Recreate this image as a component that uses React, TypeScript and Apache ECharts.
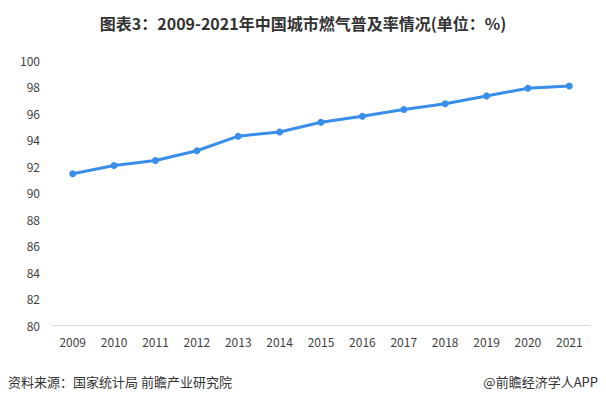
import React, { useEffect, useRef } from "react";
import * as echarts from "echarts";

const years = ["2009", "2010", "2011", "2012", "2013", "2014", "2015", "2016", "2017", "2018", "2019", "2020", "2021"];
const gasRate = [91.41, 92.04, 92.41, 93.15, 94.25, 94.57, 95.3, 95.75, 96.26, 96.7, 97.29, 97.87, 98.04];
const titleText = "图表3：2009-2021年中国城市燃气普及率情况(单位：%)";
const sourceText = "资料来源：国家统计局 前瞻产业研究院";
const brandText = "@前瞻经济学人APP";

export default function App() {
  const ref = useRef<HTMLDivElement>(null);
  useEffect(() => {
    document.body.style.margin = "0";
    const chart = echarts.init(ref.current!, null, { renderer: "svg" });
    chart.setOption({
      animation: false,
      backgroundColor: "#ffffff",
      textStyle: { fontFamily: "Noto Sans CJK SC, sans-serif" },
      title: {
        text: titleText,
        left: "center",
        top: 10,
        textStyle: { fontSize: 16, fontWeight: "bold", color: "#333333", fontFamily: "Noto Sans CJK SC, sans-serif" },
      },
      graphic: [
        { type: "text", left: 8, top: 375, style: { text: sourceText, fontSize: 13, fill: "#333333", fontFamily: "Noto Sans CJK SC, sans-serif" } },
        { type: "text", right: 8, top: 375, style: { text: brandText, fontSize: 13, fill: "#333333", fontFamily: "Noto Sans CJK SC, sans-serif" } },
      ],
      grid: { left: 52, right: 16, top: 60, bottom: 81 },
      xAxis: {
        type: "category",
        data: years,
        boundaryGap: true,
        axisLine: { lineStyle: { color: "#d9d9d9" } },
        axisTick: { show: false },
        axisLabel: { color: "#404040", fontSize: 12, margin: 10 },
      },
      yAxis: {
        type: "value",
        min: 80,
        max: 100,
        interval: 2,
        axisLine: { show: false },
        axisTick: { show: false },
        splitLine: { show: false },
        axisLabel: { color: "#404040", fontSize: 12, margin: 12 },
      },
      series: [
        {
          type: "line",
          data: gasRate,
          symbol: "circle",
          symbolSize: 7,
          lineStyle: { color: "#3A8EEB", width: 3 },
          itemStyle: { color: "#3A8EEB" },
        },
      ],
    });
    return () => chart.dispose();
  }, []);
  return <div ref={ref} style={{ width: 606, height: 406, position: "absolute", left: 0, top: 0 }} />;
}
